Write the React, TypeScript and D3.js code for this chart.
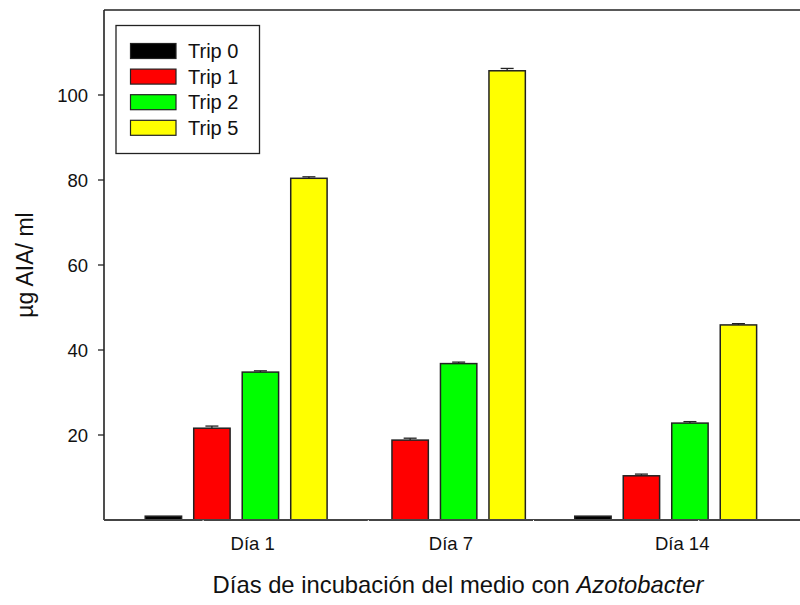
import React from "react";
import * as d3 from "d3";

// Incubation days (x positions on a linear day axis)
const days = [1, 7, 14];
const dayLabels = ["Día 1", "Día 7", "Día 14"];

// Series (treatments)
const seriesNames = ["Trip 0", "Trip 1", "Trip 2", "Trip 5"];
const seriesColors = ["#000000", "#ff0000", "#00ff00", "#ffff00"];

// µg AIA / ml per treatment, one value per day
const trip0 = [0.9, 0, 0.9];
const trip1 = [21.6, 18.8, 10.4];
const trip2 = [34.8, 36.8, 22.8];
const trip5 = [80.4, 105.7, 45.9];

// Standard errors
const trip0Err = [0, 0, 0];
const trip1Err = [0.5, 0.45, 0.4];
const trip2Err = [0.3, 0.35, 0.35];
const trip5Err = [0.35, 0.55, 0.3];

const yTicks = [20, 40, 60, 80, 100];
const xMinorTicks = [0, 5, 10, 15];

const seriesValues = [trip0, trip1, trip2, trip5];
const seriesErrors = [trip0Err, trip1Err, trip2Err, trip5Err];

const W = 800;
const H = 605;
const left = 104;
const right = 800;
const top = 10;
const bottom = 520;
const font = "'Liberation Sans', Arial, Helvetica, sans-serif";

export default function App() {
  const x = d3.scaleLinear().domain([-3, 18]).range([left, left + 21 * 33.04]);
  const y = d3.scaleLinear().domain([0, 120]).range([bottom, top]);
  const inner = d3
    .scaleBand<string>()
    .domain(seriesNames)
    .range([-97, 97])
    .paddingInner(0.25)
    .paddingOuter(0.125);

  const bars: React.ReactNode[] = [];
  seriesNames.forEach((name, si) => {
    days.forEach((day, di) => {
      const v = seriesValues[si][di];
      if (!v) return;
      const bx = x(day) + (inner(name) as number);
      const bw = inner.bandwidth();
      const yt = y(v);
      bars.push(
        <rect
          key={`b-${si}-${di}`}
          x={bx}
          y={yt}
          width={bw}
          height={bottom - yt}
          fill={seriesColors[si]}
          stroke="#222"
          strokeWidth={1.5}
        />
      );
      const e = seriesErrors[si][di];
      if (e > 0) {
        const cx = bx + bw / 2;
        const ye = y(v + e);
        bars.push(
          <g key={`e-${si}-${di}`} stroke="#222" strokeWidth={1.3}>
            <line x1={cx} x2={cx} y1={yt} y2={ye} />
            <line x1={cx - 6.5} x2={cx + 6.5} y1={ye} y2={ye} />
          </g>
        );
      }
    });
  });

  return (
    <svg width={W} height={H} style={{ position: "absolute", left: 0, top: 0, background: "#fff" }}>
      <rect width={W} height={H} fill="#fff" />
      {bars}

      {/* frame: top and left lines, bottom axis */}
      <line x1={left} x2={right} y1={top} y2={top} stroke="#222" strokeWidth={1.6} />
      <line x1={left} x2={left} y1={top} y2={bottom} stroke="#222" strokeWidth={1.6} />
      <line x1={left} x2={right} y1={bottom} y2={bottom} stroke="#444" strokeWidth={1.8} />

      {xMinorTicks.map((t) => (
        <line key={`xt-${t}`} x1={x(t)} x2={x(t)} y1={bottom} y2={bottom + 2} stroke="#fff" strokeWidth={1} />
      ))}

      {yTicks.map((t) => (
        <g key={`yt-${t}`}>
          <line x1={left - 6} x2={left} y1={y(t)} y2={y(t)} stroke="#222" strokeWidth={1.3} />
          <text
            x={88}
            y={y(t)}
            dy="0.36em"
            textAnchor="end"
            fontFamily={font}
            fontSize={18.5}
            fill="#111"
          >
            {t}
          </text>
        </g>
      ))}

      {days.map((d, i) => (
        <text
          key={`xl-${d}`}
          x={x(d) + 16.5}
          y={550}
          textAnchor="middle"
          fontFamily={font}
          fontSize={18.5}
          fill="#111"
        >
          {dayLabels[i]}
        </text>
      ))}

      <text x={458} y={593} textAnchor="middle" fontFamily={font} fontSize={23.8} fill="#111">
        Días de incubación del medio con <tspan fontStyle="italic">Azotobacter</tspan>
      </text>

      <text
        transform="translate(33,265) rotate(-90)"
        textAnchor="middle"
        fontFamily={font}
        fontSize={23}
        fill="#111"
      >
        µg AIA/ ml
      </text>

      {/* legend */}
      <g>
        <rect x={116} y={25.5} width={143.5} height={128} fill="#fff" stroke="#222" strokeWidth={1.3} />
        {seriesNames.map((n, i) => {
          const cy = 51 + i * 25.6;
          return (
            <g key={`lg-${n}`}>
              <rect x={130.5} y={cy - 7.5} width={45.5} height={15} fill={seriesColors[i]} stroke="#222" strokeWidth={1.2} />
              <text x={188} y={cy} dy="0.36em" fontFamily={font} fontSize={20} fill="#111">
                {n}
              </text>
            </g>
          );
        })}
      </g>
    </svg>
  );
}
